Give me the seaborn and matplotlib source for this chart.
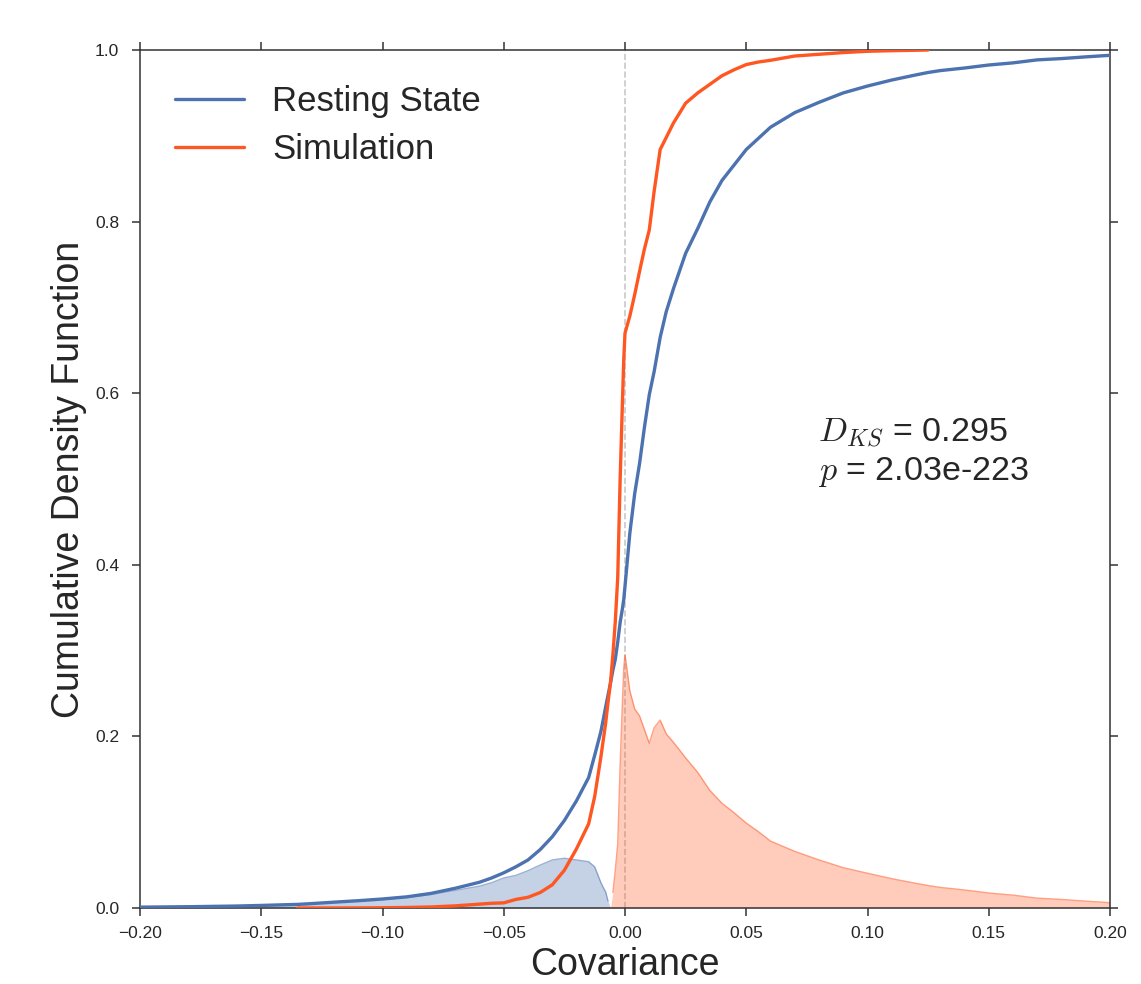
import numpy as np
import pandas as pd
import matplotlib
matplotlib.use("Agg")
import matplotlib.pyplot as plt
import seaborn as sns

covariance = [-0.20, -0.18, -0.16, -0.15, -0.14, -0.135, -0.13, -0.12, -0.11, -0.10,
              -0.09, -0.08, -0.07, -0.06, -0.055, -0.05, -0.045, -0.04, -0.035, -0.03,
              -0.025, -0.02, -0.015, -0.0125, -0.01, -0.009, -0.008, -0.007, -0.006, -0.005,
              -0.004, -0.003, -0.002, -0.001, -0.0005, 0.0, 0.002, 0.004, 0.006, 0.008,
              0.01, 0.012, 0.0145, 0.017, 0.02, 0.025, 0.03, 0.035, 0.04, 0.045,
              0.05, 0.055, 0.06, 0.07, 0.08, 0.09, 0.10, 0.11, 0.12, 0.125,
              0.13, 0.14, 0.15, 0.16, 0.17, 0.18, 0.19, 0.20]

resting_cdf = [0.001, 0.0015, 0.0023, 0.003, 0.0038, 0.0042, 0.005, 0.0068, 0.0085, 0.0105,
               0.013, 0.017, 0.023, 0.030, 0.035, 0.041, 0.048, 0.056, 0.068, 0.083,
               0.102, 0.125, 0.152, 0.178, 0.205, 0.219, 0.234, 0.248, 0.262, 0.277,
               0.290, 0.310, 0.333, 0.350, 0.360, 0.375, 0.437, 0.483, 0.518, 0.560,
               0.598, 0.625, 0.665, 0.695, 0.722, 0.763, 0.792, 0.823, 0.848, 0.866,
               0.884, 0.897, 0.910, 0.927, 0.939, 0.950, 0.958, 0.965, 0.971, 0.9738,
               0.976, 0.979, 0.9825, 0.985, 0.9885, 0.990, 0.992, 0.9938]

nan = np.nan
simulation_cdf = [nan, nan, nan, nan, nan, 0.0, 0.0, 0.00005, 0.0001, 0.0003,
                  0.0006, 0.0012, 0.0025, 0.0045, 0.0055, 0.006, 0.010, 0.0125, 0.018, 0.027,
                  0.044, 0.069, 0.098, 0.130, 0.175, 0.195, 0.215, 0.240, 0.262, 0.295,
                  0.334, 0.385, 0.50, 0.595, 0.64, 0.670, 0.690, 0.715, 0.742, 0.768,
                  0.790, 0.835, 0.884, 0.898, 0.915, 0.938, 0.950, 0.960, 0.970, 0.977,
                  0.983, 0.986, 0.988, 0.993, 0.995, 0.997, 0.9985, 0.9992, 0.9997, 1.0,
                  nan, nan, nan, nan, nan, nan, nan, nan]

series_names = ["Resting State", "Simulation"]
d_ks_text = "$D_{KS}$ = 0.295\n$p$ = 2.03e-223"
x_ticks = [-0.20, -0.15, -0.10, -0.05, 0.0, 0.05, 0.10, 0.15, 0.20]
y_ticks = [0.0, 0.2, 0.4, 0.6, 0.8, 1.0]

BLUE = "#4c72b0"
ORANGE = "#ff5722"

# ---- style ----
sns.set_theme(style="ticks")
plt.rcParams["font.family"] = ["Liberation Sans", "DejaVu Sans"]
plt.rcParams["mathtext.fontset"] = "cm"

fig = plt.figure(figsize=(11.41, 9.84), dpi=100)
ax = fig.add_axes([140 / 1141, 1 - 908 / 984, 970 / 1141, 858 / 984])

x = np.array(covariance)
rest = np.array(resting_cdf)
sim = np.array(simulation_cdf, dtype=float)

# simulation CDF outside its observed range: 0 on the left, 1 on the right
sim_full = np.where(np.isnan(sim), np.where(x < 0, 0.0, 1.0), sim)
diff = sim_full - rest
rest_above = np.clip(-diff, 0, None)
sim_above = np.clip(diff, 0, None)

ax.fill_between(x, 0, rest_above, facecolor=BLUE, alpha=0.32, linewidth=0, zorder=1)
ax.plot(x, np.ma.masked_where(rest_above <= 0, rest_above), color=BLUE, alpha=0.55, lw=1, zorder=1.2)
ax.fill_between(x, 0, sim_above, facecolor=ORANGE, alpha=0.30, linewidth=0, zorder=1)
ax.plot(x, np.ma.masked_where(sim_above <= 0, sim_above), color=ORANGE, alpha=0.55, lw=1, zorder=1.2)

ax.axvline(0, color="#c8c8c8", ls="--", lw=1.2, zorder=0.5)

df = pd.concat([
    pd.DataFrame({"Covariance": x, "CDF": rest, "Series": series_names[0]}),
    pd.DataFrame({"Covariance": x, "CDF": sim, "Series": series_names[1]}).dropna(),
], ignore_index=True)

sns.lineplot(data=df, x="Covariance", y="CDF", hue="Series",
             palette={series_names[0]: BLUE, series_names[1]: ORANGE},
             lw=2.4, sort=True, estimator=None, ax=ax, zorder=3)

ax.set_xlim(-0.2, 0.2)
ax.set_ylim(0, 1.0)
ax.set_xticks(x_ticks)
ax.set_yticks(y_ticks)
ax.set_xticklabels([f"{t:.2f}".replace("-", "\u2212") for t in x_ticks])
ax.set_yticklabels([f"{t:.1f}" for t in y_ticks])
ax.tick_params(axis="both", which="major", labelsize=12.5, top=True, right=True,
               direction="out", length=6, width=1.1, colors="#333333", labelcolor="#262626")
ax.tick_params(axis="x", pad=7)
ax.tick_params(axis="y", pad=9)
for sp in ax.spines.values():
    sp.set_visible(True)
    sp.set_color("#333333")
    sp.set_linewidth(1.1)

ax.set_xlabel("Covariance", fontsize=27, color="#262626", labelpad=4)
ax.set_ylabel("Cumulative Density Function", fontsize=27, color="#262626", labelpad=6)

leg = ax.legend(loc="upper left", frameon=False, fontsize=25, handlelength=2.0,
                handletextpad=0.8, labelspacing=0.45, borderaxespad=0.6)
leg.set_title(None)

ax.text(0.0795, 0.53, d_ks_text, fontsize=24.5, color="#262626", va="center", ha="left",
        linespacing=1.2)

fig.savefig("out.png", dpi=100)
